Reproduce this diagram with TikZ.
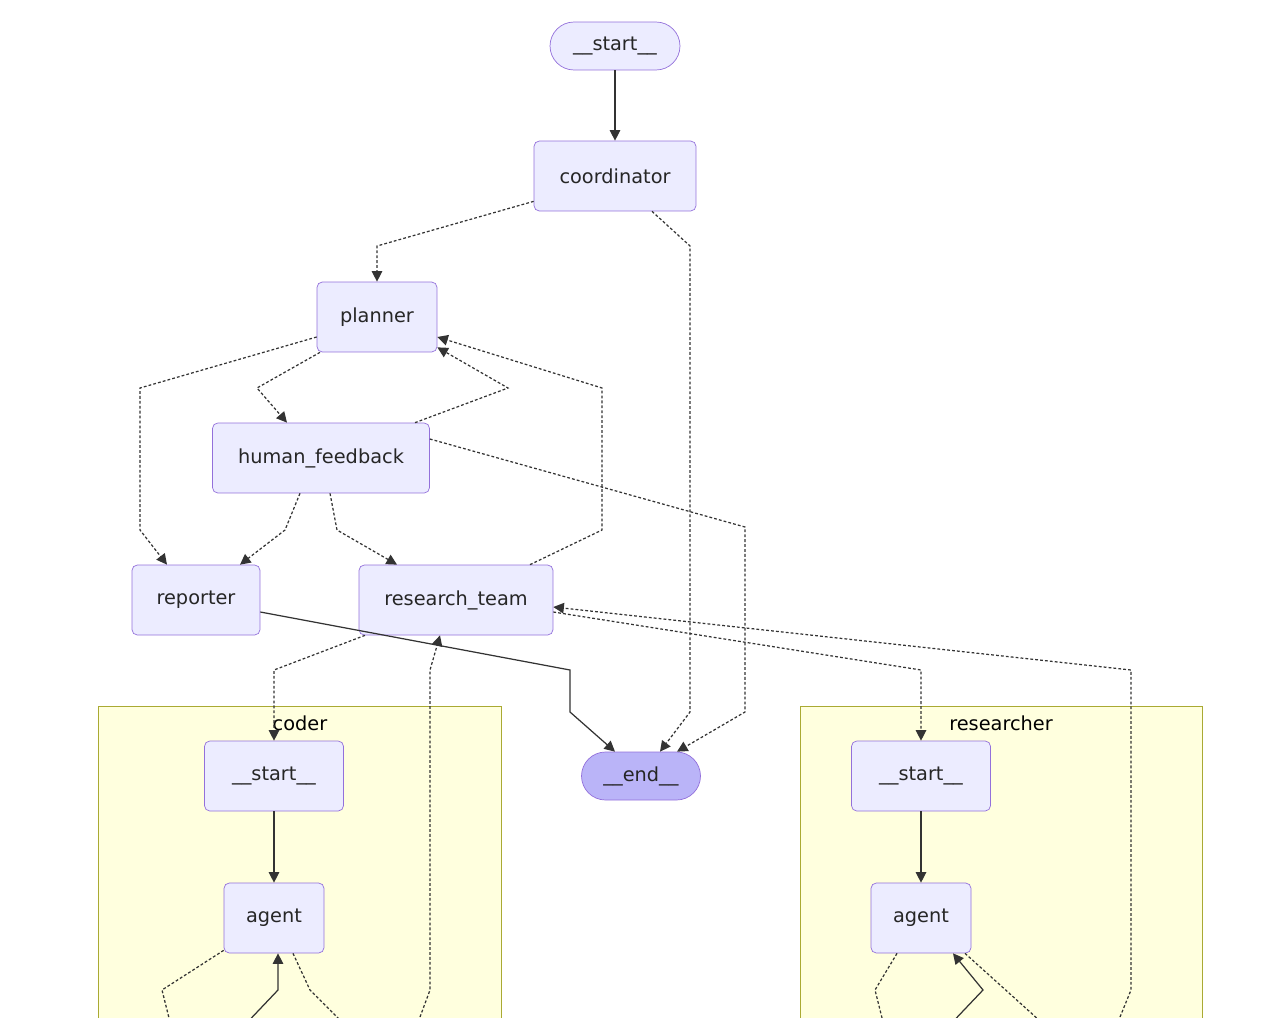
\documentclass[tikz,border=0pt]{standalone}
\usepackage{fontspec}
\setmainfont{DejaVu Sans}
\usetikzlibrary{positioning,arrows.meta}
\definecolor{nodefill}{HTML}{ECECFF}
\definecolor{nodeline}{HTML}{9370DB}
\definecolor{endfill}{HTML}{BAB4F8}
\definecolor{clusterfill}{HTML}{FFFFDE}
\definecolor{clusterline}{HTML}{AAAA33}
\definecolor{edgecol}{HTML}{333333}
\tikzset{
  box/.style={draw=nodeline, fill=nodefill, rounded corners=3pt, inner sep=0pt,
    font=\fontsize{11}{13}\selectfont, text=black!85},
  term/.style={box, rounded corners=0.48cm},
  cluster/.style={draw=clusterline, fill=clusterfill},
  flow/.style={-{Triangle[length=6pt,width=6pt]}, draw=edgecol, line width=0.7pt},
  cond/.style={flow, dash pattern=on 1.6pt off 1.2pt},
}
\begin{document}
\begin{tikzpicture}[x=0.02cm, y=-0.02cm]
  \useasboundingbox (0,0) rectangle (1280,1017);
  \clip (0,0) rectangle (1280,1017);
  % sous-graphes
  \draw[cluster] (98,706) rectangle (501,1030);
  \draw[cluster] (800,706) rectangle (1202,1030);
  \node[font=\fontsize{11}{13}\selectfont] (codertitle) at (300,723) {coder};
  \node[font=\fontsize{11}{13}\selectfont] (resrtitle) at (1001,723) {researcher};
  % noeuds principaux
  \node[term, minimum width=2.6cm, minimum height=0.96cm] (start) at (615,46) {\_\_start\_\_};
  \node[box, minimum width=3.24cm, minimum height=1.4cm] (coordinator) at (615,176) {coordinator};
  \node[box, minimum width=2.4cm, minimum height=1.4cm] (planner) at (377,317) {planner};
  \node[box, minimum width=4.34cm, minimum height=1.4cm] (feedback) at (321,458) {human\_feedback};
  \node[box, minimum width=2.56cm, minimum height=1.4cm] (reporter) at (196,600) {reporter};
  \node[box, minimum width=3.88cm, minimum height=1.4cm] (team) at (456,600) {research\_team};
  \node[term, fill=endfill, minimum width=2.38cm, minimum height=0.96cm] (end) at (641,776) {\_\_end\_\_};
  % noeuds des sous-graphes
  \node[box, minimum width=2.78cm, minimum height=1.4cm] (cstart) at (274,776) {\_\_start\_\_};
  \node[box, minimum width=2cm, minimum height=1.4cm] (cagent) at (274,918) {agent};
  \node[box, minimum width=2.78cm, minimum height=1.4cm] (rstart) at (921,776) {\_\_start\_\_};
  \node[box, minimum width=2cm, minimum height=1.4cm] (ragent) at (921,918) {agent};
  % points de sortie en bas
  \coordinate (cout) at (420,1017);
  \coordinate (rout) at (1120,1017);
  % liens
  \draw[flow] (start) -- (coordinator);
  \draw[cond] ([yshift=0.2cm]coordinator.south west) -- (377,246) -- (planner.north);
  \draw[cond] ([xshift=0.74cm]coordinator.south) -- (690,246) -- (690,712) -- ([xshift=0.38cm]end.north);
  \draw[cond] ([yshift=-0.4cm]planner.west) -- (140,388) -- (140,530) -- ([xshift=-0.58cm]reporter.north);
  \draw[cond] ([xshift=-1.14cm]planner.south) -- (257,388) -- ([xshift=-0.68cm]feedback.north);
  \draw[cond] ([xshift=1.88cm]feedback.north) -- (508,388) -- ([yshift=0.1cm]planner.south east);
  \draw[cond] ([xshift=1.48cm]team.north) -- (602,530) -- (602,388) -- ([yshift=-0.4cm]planner.east);
  \draw[cond] ([yshift=0.38cm]feedback.east) -- (745,527) -- (745,712) -- ([xshift=0.72cm]end.north);
  \draw[cond] ([xshift=-0.42cm]feedback.south) -- (285,530) -- ([xshift=0.88cm]reporter.north);
  \draw[cond] ([xshift=0.18cm]feedback.south) -- (337,530) -- ([xshift=-1.18cm]team.north);
  \draw[flow] ([yshift=-0.24cm]reporter.east) -- (570,670) -- (570,712) -- ([xshift=-0.52cm]end.north);
  \draw[cond] ([xshift=-1.82cm]team.south) -- (274,670) -- (cstart.north);
  \draw[cond] (cout) -- (430,990) -- (430,670) -- ([xshift=-0.32cm]team.south);
  \draw[cond] ([yshift=-0.24cm]team.east) -- (921,670) -- (rstart.north);
  \draw[cond] (rout) -- (1131,990) -- (1131,670) -- ([yshift=-0.14cm]team.east);
  \draw[flow] (cstart) -- (cagent);
  \draw[flow] (rstart) -- (ragent);
  % liens des agents (coupes en bas)
  \draw[cond] ([yshift=0.06cm]cagent.south west) -- (162,990) -- (172,1030);
  \draw[flow] (240,1030) -- (278,990) -- ([xshift=0.08cm]cagent.south);
  \draw[cond] ([xshift=0.38cm]cagent.south) -- (310,990) -- (350,1030);
  \draw[cond] ([xshift=-0.48cm]ragent.south) -- (875,990) -- (885,1030);
  \draw[flow] (945,1030) -- (983,990) -- ([xshift=0.64cm]ragent.south);
  \draw[cond] ([xshift=0.88cm]ragent.south) -- (1050,1030);
\end{tikzpicture}
\end{document}
